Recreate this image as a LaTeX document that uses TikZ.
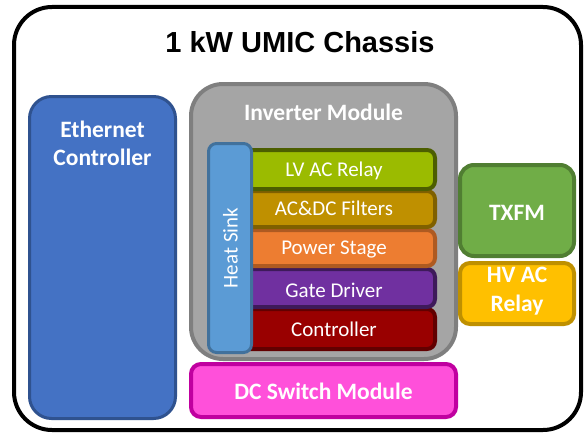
\documentclass[tikz,border=0pt]{standalone}
\usepackage{fontspec}
\setmainfont{Carlito}
\newfontfamily\arialf{Liberation Sans}
\definecolor{ethF}{HTML}{4472C4}\definecolor{ethD}{HTML}{2F528F}
\definecolor{invF}{HTML}{A5A5A5}\definecolor{invD}{HTML}{7F7F7F}
\definecolor{hsF}{HTML}{5B9BD5}\definecolor{hsD}{HTML}{41719C}
\definecolor{lvF}{HTML}{9BBB00}\definecolor{lvD}{HTML}{4C5E00}
\definecolor{fiF}{HTML}{BF9000}\definecolor{fiD}{HTML}{7F6000}
\definecolor{psF}{HTML}{ED7D31}\definecolor{psD}{HTML}{AE5A21}
\definecolor{gdF}{HTML}{7030A0}\definecolor{gdD}{HTML}{3E1A5A}
\definecolor{ctF}{HTML}{990000}\definecolor{ctD}{HTML}{620000}
\definecolor{txF}{HTML}{70AD47}\definecolor{txD}{HTML}{507E32}
\definecolor{hvF}{HTML}{FFC000}\definecolor{hvD}{HTML}{BF9000}
\definecolor{dcF}{HTML}{FF50DA}\definecolor{dcD}{HTML}{C000A0}
\begin{document}
\begin{tikzpicture}[x=1pt,y=-1pt,
  blk/.style={draw=#1D,fill=#1F,line width=4pt,inner sep=0pt},
  boldlbl/.style={text=white,font=\fontsize{23.5}{28.5}\selectfont\bfseries,align=center,inner sep=0pt},
  layerlbl/.style={text=white,font=\fontsize{21}{25}\selectfont,inner sep=0pt},
  layer/.style={blk=#1,rounded corners=8pt,minimum width=202pt}]
\useasboundingbox (0,0) rectangle (585,436);
% chassis
\node[draw=black,fill=white,line width=4pt,rounded corners=38pt,minimum width=567pt,minimum height=423pt,inner sep=0pt] (chassis) at (297.5,218.5) {};
\node[font=\arialf\fontsize{29}{34}\selectfont\bfseries,inner sep=0pt] (title) at (300,42) {1 kW UMIC Chassis};
% ethernet
\node[blk=eth,line width=3pt,rounded corners=22pt,minimum width=146pt,minimum height=322pt] (eth) at (102.5,257.5) {};
\node[boldlbl] (ethlbl) at (102.5,143.5) {Ethernet\\Controller};
% inverter
\node[blk=inv,rounded corners=32pt,minimum width=265pt,minimum height=275pt] (inv) at (323.5,221.5) {};
\node[boldlbl] (invlbl) at (323.5,112) {Inverter Module};
% layers
\node[layer=ct,minimum height=40pt] (ctl) at (334,329) {};
\node[layer=gd,minimum height=38pt] (gd) at (334,288) {};
\node[layer=ps,minimum height=36pt] (ps) at (334,248) {};
\node[layer=fi,minimum height=36pt] (fi) at (334,209) {};
\node[layer=lv,minimum height=39pt] (lv) at (334,169.5) {};
\node[layerlbl] (lvlbl) at (334,171) {LV AC Relay};
\node[layerlbl] (filbl) at (334,208.5) {AC\&DC Filters};
\node[layerlbl] (pslbl) at (334,249.5) {Power Stage};
\node[layerlbl] (gdlbl) at (334,290.5) {Gate Driver};
\node[layerlbl] (ctlbl) at (334,329) {Controller};
% heat sink
\node[blk=hs,line width=3pt,rounded corners=8pt,minimum width=43pt,minimum height=209pt] (hs) at (230,248) {};
\node[layerlbl,rotate=90] (hslbl) at (230.5,248) {Heat Sink};
% txfm, hv relay
\node[blk=tx,rounded corners=14pt,minimum width=114pt,minimum height=91pt] (tx) at (517,210.5) {};
\node[boldlbl] (txlbl) at (517,213) {TXFM};
\node[blk=hv,rounded corners=10pt,minimum width=114pt,minimum height=61pt] (hv) at (517,293.5) {};
\node[boldlbl] (hvlbl) at (517,291) {HV AC\\Relay};
% dc switch
\node[blk=dc,rounded corners=10pt,minimum width=265pt,minimum height=53pt] (dc) at (323.5,390.5) {};
\node[boldlbl] (dclbl) at (323.5,391) {DC Switch Module};
\end{tikzpicture}
\end{document}
